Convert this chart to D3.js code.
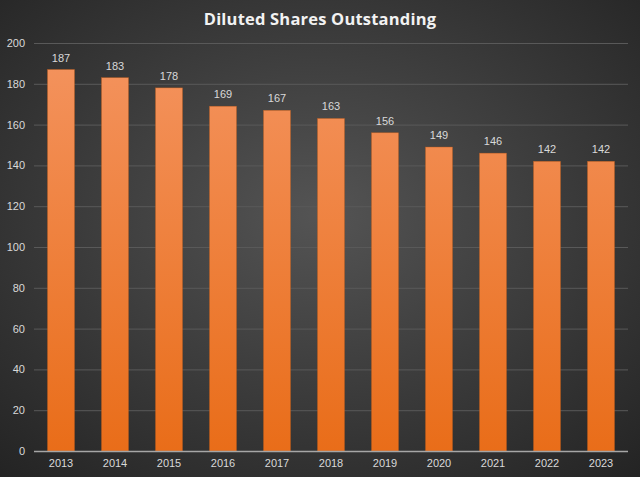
<!DOCTYPE html>
<html><head><meta charset="utf-8">
<script src="https://cdn.jsdelivr.net/npm/d3@7"></script>
<style>html,body{margin:0;padding:0;background:#2b2b2b;}svg{display:block;}</style>
</head><body>
<svg id="chart" width="640" height="477"></svg>
<script>
const years = ["2013","2014","2015","2016","2017","2018","2019","2020","2021","2022","2023"];
const shares = [187,183,178,169,167,163,156,149,146,142,142];
const yTicks = [0,20,40,60,80,100,120,140,160,180,200];
const title = "Diluted Shares Outstanding";

const W = 640, H = 477;
const m = {left: 34, right: 12, top: 43, bottom: 26};
const svg = d3.select("#chart");
const defs = svg.append("defs");
const bg = defs.append("radialGradient").attr("id","bg").attr("cx","50%").attr("cy","45%").attr("r","75%");
bg.append("stop").attr("offset","0%").attr("stop-color","#545454");
bg.append("stop").attr("offset","100%").attr("stop-color","#232323");
const bar = defs.append("linearGradient").attr("id","bar").attr("gradientUnits","userSpaceOnUse")
  .attr("y1", m.top).attr("y2", H - m.bottom).attr("x1",0).attr("x2",0);
bar.append("stop").attr("offset","0%").attr("stop-color","#f49460");
bar.append("stop").attr("offset","100%").attr("stop-color","#e96d19");

svg.append("rect").attr("width",W).attr("height",H).attr("fill","url(#bg)");

const x = d3.scaleBand().domain(years).range([m.left, W - m.right]).paddingInner(0.5).paddingOuter(0.25);
const y = d3.scaleLinear().domain([0,200]).range([H - m.bottom, m.top]);

svg.append("g").selectAll("line").data(yTicks.filter(d=>d>0)).join("line")
  .attr("x1", m.left).attr("x2", W - m.right)
  .attr("y1", d=>y(d)+0.5).attr("y2", d=>y(d)+0.5)
  .attr("stroke","#595959").attr("stroke-width",1);

svg.append("g").selectAll("rect").data(shares).join("rect")
  .attr("x",(d,i)=>x(years[i])).attr("width",x.bandwidth())
  .attr("y",d=>y(d)).attr("height",d=>y(0)-y(d))
  .attr("fill","url(#bar)").attr("stroke","#c45c18").attr("stroke-width",0.6).attr("stroke-opacity",0.6);

svg.append("line").attr("x1",m.left).attr("x2",W-m.right).attr("y1",y(0)+0.5).attr("y2",y(0)+0.5)
  .attr("stroke","#a6a6a6").attr("stroke-width",1.5);

const font = "'Liberation Sans', Arial, sans-serif";
const yAxis = svg.append("g").attr("transform",`translate(${m.left-9},0)`)
  .call(d3.axisLeft(y).tickValues(yTicks).tickSize(0).tickPadding(0));
yAxis.select(".domain").remove();
yAxis.selectAll("text").attr("fill","#d9d9d9").style("font-family",font).style("font-size","11px");

const xAxis = svg.append("g").attr("transform",`translate(0,${y(0)})`)
  .call(d3.axisBottom(x).tickSize(0).tickPadding(8));
xAxis.select(".domain").remove();
xAxis.selectAll("text").attr("fill","#d9d9d9").style("font-family",font).style("font-size","11px");

svg.append("g").selectAll("text").data(shares).join("text")
  .attr("x",(d,i)=>x(years[i])+x.bandwidth()/2).attr("y",d=>y(d)-8)
  .attr("text-anchor","middle").attr("fill","#d9d9d9")
  .style("font-family",font).style("font-size","11px")
  .text(d=>d);

svg.append("text").attr("x",320).attr("y",25).attr("text-anchor","middle")
  .attr("fill","#f2f2f2").style("font-family","'Open Sans', 'Noto Sans', sans-serif")
  .style("font-weight","bold").style("font-size","16.5px").style("letter-spacing","0.2px")
  .text(title);
</script>
</body></html>
